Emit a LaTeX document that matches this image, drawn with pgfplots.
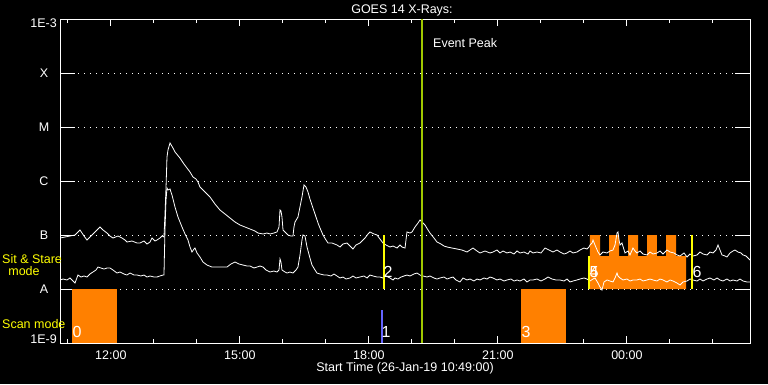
\documentclass[border=0pt]{standalone}
\usepackage{pgfplots}
\pgfplotsset{compat=1.18}
\usepackage{pgfplotstable}
\usepackage{fontspec}
\setmainfont{Liberation Sans}
\definecolor{scanorange}{RGB}{255,128,0}
\definecolor{peakgreen}{RGB}{160,200,0}
\definecolor{modeblue}{RGB}{100,100,255}
\definecolor{ssyellow}{RGB}{255,255,0}

% GOES 14 long channel (1-8 A), log10 flux, time in hours (UT, 26-Jan-19)
\pgfplotstableread{
t f
10.817 -7.056
10.933 -7.037
11.049 -7.019
11.166 -7.000
11.282 -6.907
11.375 -7.019
11.445 -7.093
11.538 -7.019
11.630 -6.944
11.700 -6.889
11.747 -6.852
11.817 -6.907
11.910 -6.963
11.979 -7.019
12.049 -7.056
12.165 -7.019
12.258 -7.056
12.328 -7.093
12.375 -7.130
12.491 -7.111
12.607 -7.148
12.677 -7.148
12.770 -7.111
12.840 -7.167
12.910 -7.130
12.956 -7.056
13.026 -7.111
13.072 -7.093
13.142 -7.056
13.189 -7.019
13.235 -7.037
13.258 -6.630
13.282 -6.130
13.305 -5.556
13.328 -5.426
13.375 -5.296
13.444 -5.389
13.491 -5.463
13.607 -5.574
13.700 -5.685
13.770 -5.759
13.840 -5.833
13.910 -5.926
13.980 -5.963
14.026 -6.019
14.072 -6.111
14.189 -6.204
14.305 -6.296
14.421 -6.426
14.537 -6.537
14.654 -6.611
14.770 -6.685
14.886 -6.759
15.003 -6.815
15.119 -6.852
15.235 -6.889
15.351 -6.926
15.421 -6.963
15.538 -6.981
15.630 -6.963
15.700 -6.981
15.793 -6.963
15.863 -6.944
15.910 -6.852
15.933 -6.537
15.956 -6.556
15.979 -6.667
16.003 -6.907
16.072 -6.963
16.119 -7.000
16.189 -7.019
16.235 -7.019
16.258 -6.852
16.282 -6.759
16.351 -6.667
16.398 -6.481
16.444 -6.296
16.491 -6.074
16.537 -6.111
16.584 -6.204
16.630 -6.333
16.700 -6.500
16.747 -6.611
16.817 -6.778
16.863 -6.870
16.933 -7.000
17.003 -7.093
17.049 -7.148
17.142 -7.148
17.258 -7.185
17.328 -7.222
17.398 -7.167
17.491 -7.148
17.561 -7.204
17.630 -7.259
17.700 -7.185
17.793 -7.148
17.863 -7.093
17.910 -7.056
17.980 -6.981
18.026 -6.944
18.119 -6.981
18.189 -7.000
18.258 -7.074
18.328 -7.148
18.398 -7.185
18.491 -7.222
18.561 -7.204
18.654 -7.241
18.724 -7.185
18.770 -7.222
18.840 -7.241
18.863 -7.093
18.886 -6.944
18.956 -6.963
19.003 -6.944
19.072 -6.852
19.142 -6.778
19.189 -6.722
19.258 -6.778
19.305 -6.815
19.375 -6.907
19.421 -6.963
19.514 -7.056
19.584 -7.130
19.677 -7.167
19.747 -7.204
19.817 -7.222
19.933 -7.241
20.049 -7.259
20.165 -7.278
20.282 -7.315
20.351 -7.278
20.421 -7.241
20.514 -7.296
20.584 -7.333
20.700 -7.296
20.817 -7.333
20.886 -7.315
20.979 -7.278
21.049 -7.333
21.119 -7.296
21.212 -7.333
21.282 -7.315
21.375 -7.352
21.445 -7.296
21.514 -7.333
21.607 -7.315
21.700 -7.352
21.747 -7.296
21.817 -7.333
21.910 -7.315
22.003 -7.333
22.096 -7.241
22.189 -7.278
22.282 -7.315
22.375 -7.278
22.445 -7.315
22.538 -7.352
22.608 -7.333
22.677 -7.296
22.747 -7.333
22.840 -7.315
22.910 -7.278
23.003 -7.241
23.072 -7.259
23.119 -7.222
23.142 -7.185
23.189 -7.148
23.212 -7.093
23.258 -7.185
23.328 -7.315
23.375 -7.370
23.445 -7.315
23.538 -7.333
23.607 -7.296
23.677 -7.278
23.724 -7.185
23.770 -6.963
23.793 -6.944
23.817 -7.093
23.840 -7.185
23.886 -7.148
23.956 -7.333
24.026 -7.296
24.072 -7.370
24.142 -7.241
24.189 -7.296
24.235 -7.333
24.305 -7.296
24.375 -7.352
24.468 -7.370
24.537 -7.315
24.608 -7.352
24.700 -7.333
24.770 -7.296
24.840 -7.352
24.933 -7.278
25.003 -7.315
25.096 -7.333
25.166 -7.370
25.235 -7.389
25.328 -7.333
25.398 -7.407
25.468 -7.352
25.538 -7.389
25.631 -7.370
25.700 -7.315
25.770 -7.352
25.863 -7.370
25.933 -7.315
26.003 -7.333
26.072 -7.278
26.119 -7.185
26.165 -7.278
26.212 -7.370
26.282 -7.389
26.328 -7.407
26.398 -7.333
26.468 -7.296
26.514 -7.278
26.584 -7.315
26.654 -7.333
26.700 -7.370
26.770 -7.389
26.817 -7.426
26.863 -7.463
}\longch

% GOES 14 short channel (0.5-4 A)
\pgfplotstableread{
t f
10.817 -7.833
10.887 -7.815
10.980 -7.833
11.049 -7.796
11.119 -7.852
11.166 -7.889
11.235 -7.741
11.305 -7.778
11.375 -7.759
11.445 -7.778
11.514 -7.722
11.584 -7.685
11.654 -7.648
11.700 -7.593
11.770 -7.611
11.840 -7.630
11.910 -7.611
11.979 -7.611
12.049 -7.648
12.142 -7.704
12.212 -7.685
12.305 -7.722
12.375 -7.741
12.444 -7.704
12.537 -7.741
12.607 -7.741
12.700 -7.759
12.770 -7.741
12.840 -7.778
12.910 -7.759
13.003 -7.778
13.072 -7.778
13.142 -7.759
13.212 -7.741
13.235 -7.741
13.258 -6.907
13.282 -6.352
13.305 -6.130
13.328 -6.167
13.375 -6.148
13.421 -6.259
13.491 -6.481
13.561 -6.667
13.654 -6.852
13.724 -6.981
13.793 -7.093
13.840 -7.222
13.886 -7.315
13.933 -7.259
13.956 -7.241
14.003 -7.333
14.072 -7.407
14.142 -7.500
14.235 -7.556
14.351 -7.593
14.468 -7.593
14.584 -7.593
14.700 -7.593
14.793 -7.537
14.886 -7.500
14.979 -7.537
15.072 -7.556
15.166 -7.574
15.235 -7.574
15.328 -7.611
15.398 -7.593
15.468 -7.574
15.538 -7.593
15.607 -7.648
15.700 -7.685
15.793 -7.667
15.863 -7.685
15.910 -7.648
15.933 -7.444
15.956 -7.500
15.979 -7.648
16.049 -7.685
16.096 -7.704
16.165 -7.685
16.235 -7.704
16.305 -7.648
16.351 -7.593
16.398 -7.370
16.444 -7.093
16.468 -7.000
16.514 -7.019
16.561 -7.222
16.630 -7.426
16.677 -7.556
16.747 -7.648
16.793 -7.704
16.863 -7.722
16.956 -7.741
17.026 -7.741
17.119 -7.759
17.189 -7.722
17.258 -7.759
17.328 -7.796
17.398 -7.778
17.468 -7.815
17.561 -7.796
17.630 -7.759
17.700 -7.796
17.793 -7.778
17.886 -7.759
17.956 -7.796
18.026 -7.741
18.096 -7.759
18.189 -7.778
18.258 -7.778
18.328 -7.796
18.398 -7.759
18.491 -7.796
18.561 -7.833
18.607 -7.796
18.677 -7.815
18.747 -7.778
18.817 -7.759
18.886 -7.741
18.956 -7.759
19.049 -7.722
19.119 -7.704
19.189 -7.741
19.258 -7.759
19.351 -7.778
19.421 -7.759
19.514 -7.796
19.584 -7.815
19.654 -7.796
19.747 -7.778
19.817 -7.815
19.886 -7.796
19.956 -7.778
20.026 -7.833
20.119 -7.870
20.189 -7.796
20.282 -7.833
20.351 -7.815
20.444 -7.852
20.514 -7.815
20.584 -7.833
20.677 -7.796
20.747 -7.815
20.817 -7.778
20.886 -7.796
20.979 -7.833
21.049 -7.815
21.142 -7.852
21.212 -7.833
21.305 -7.815
21.375 -7.852
21.445 -7.833
21.514 -7.852
21.607 -7.815
21.677 -7.870
21.747 -7.833
21.817 -7.833
21.910 -7.815
22.003 -7.852
22.096 -7.815
22.166 -7.778
22.258 -7.815
22.352 -7.833
22.445 -7.833
22.538 -7.852
22.608 -7.815
22.677 -7.870
22.747 -7.852
22.840 -7.833
22.910 -7.815
23.003 -7.796
23.072 -7.815
23.142 -7.852
23.212 -7.815
23.258 -7.796
23.328 -7.889
23.375 -7.963
23.421 -8.019
23.468 -7.870
23.538 -7.833
23.607 -7.852
23.677 -7.870
23.724 -7.796
23.770 -7.704
23.793 -7.759
23.840 -7.796
23.910 -7.833
24.003 -7.815
24.072 -7.852
24.142 -7.833
24.235 -7.833
24.305 -7.815
24.375 -7.852
24.468 -7.833
24.537 -7.815
24.608 -7.833
24.700 -7.852
24.770 -7.815
24.840 -7.833
24.933 -7.870
25.003 -7.833
25.072 -7.852
25.166 -7.889
25.235 -7.926
25.305 -7.870
25.398 -7.852
25.468 -7.815
25.538 -7.833
25.631 -7.852
25.700 -7.815
25.770 -7.852
25.863 -7.815
25.933 -7.796
26.026 -7.833
26.096 -7.796
26.165 -7.833
26.235 -7.852
26.328 -7.815
26.398 -7.852
26.468 -7.833
26.561 -7.852
26.630 -7.815
26.700 -7.852
26.793 -7.870
26.863 -7.870
}\shortch

\begin{document}
\begin{tikzpicture}[x=1pt,y=1pt]
\fill[black] (0,0) rectangle (768,384);
\path[use as bounding box] (0,0) rectangle (768,384);
\begin{axis}[
  at={(60pt,41pt)}, anchor=south west,
  scale only axis, width=690pt, height=324pt,
  xmin=10.817, xmax=26.863, ymin=-9, ymax=-3,
  axis line style={white, line width=0.8pt},
  tick style={white, line width=0.8pt},
  tick align=inside,
  major tick length=7pt, minor tick length=4pt,
  xtick={12,15,18,21,24},
  xticklabels={12:00,15:00,18:00,21:00,00:00},
  minor xtick={11,13,14,16,17,19,20,22,23,25,26},
  ytick=\empty,
  extra y ticks={-8,-7,-6,-5,-4},
  extra y tick labels={A,B,C,M,X},
  extra y tick style={major tick length=15pt, grid=major,
    yticklabel style={anchor=center, xshift=-16pt}},
  major grid style={white, line width=1pt, dash pattern=on 1pt off 5pt},
  xticklabel style={anchor=center, yshift=-12pt},
  tick label style={white, font=\fontsize{12.5}{14}\selectfont},
  /pgf/number format/assume math mode=true,
]
% Scan mode blocks
\addplot[draw=none, fill=scanorange] coordinates {(11.096,-9) (12.142,-9) (12.142,-8) (11.096,-8)} -- cycle;
\addplot[draw=none, fill=scanorange] coordinates {(21.538,-9) (22.584,-9) (22.584,-8) (21.538,-8)} -- cycle;
% Sit & Stare block
\addplot[draw=none, fill=scanorange] coordinates {
 (23.119,-8) (25.375,-8) (25.375,-7.389) (25.143,-7.389) (25.143,-7) (24.910,-7)
 (24.910,-7.389) (24.700,-7.389) (24.700,-7) (24.468,-7) (24.468,-7.389) (24.259,-7.389)
 (24.259,-7) (24.026,-7) (24.026,-7.389) (23.817,-7.389) (23.817,-7) (23.584,-7)
 (23.584,-7.389) (23.375,-7.389) (23.375,-7) (23.142,-7) (23.142,-7.389) (23.119,-7.389)} -- cycle;
% flux curves
\addplot[white, line width=0.8pt] table[x=t, y=f] {\longch};
\addplot[white, line width=0.8pt] table[x=t, y=f] {\shortch};
% event markers
\addplot[ssyellow, line width=2pt] coordinates {(18.352,-7) (18.352,-8)};
\addplot[ssyellow, line width=1.5pt] coordinates {(23.119,-7.389) (23.119,-8)};
\addplot[ssyellow, line width=2pt] coordinates {(25.515,-7) (25.515,-8)};
\addplot[modeblue, line width=2.5pt] coordinates {(18.305,-8.389) (18.305,-9)};
\addplot[peakgreen, line width=2pt] coordinates {(19.235,-9) (19.235,-3)};
% marker numbers
\node[white, font=\fontsize{16}{16}\selectfont, inner sep=0pt] at (axis cs:11.212,-8.796) {0};
\node[white, font=\fontsize{16}{16}\selectfont, inner sep=0pt] at (axis cs:18.398,-8.796) {1};
\node[white, font=\fontsize{16}{16}\selectfont, inner sep=0pt] at (axis cs:18.445,-7.685) {2};
\node[white, font=\fontsize{16}{16}\selectfont, inner sep=0pt] at (axis cs:21.654,-8.796) {3};
\node[white, font=\fontsize{16}{16}\selectfont, inner sep=0pt] at (axis cs:23.236,-7.685) {4};
\node[white, font=\fontsize{16}{16}\selectfont, inner sep=0pt] at (axis cs:23.236,-7.685) {5};
\node[white, font=\fontsize{16}{16}\selectfont, inner sep=0pt] at (axis cs:25.631,-7.685) {6};
\end{axis}
\begin{scope}[every node/.style={inner sep=0pt, font=\fontsize{12.5}{14}\selectfont}]
\node[white] at (402,374) {GOES 14 X-Rays:};
\node[white, anchor=west] at (433,341) {Event Peak};
\node[white] at (405,16) {Start Time (26-Jan-19 10:49:00)};
\node[white, anchor=east] at (57,361) {1E-3};
\node[white, anchor=east] at (57,45) {1E-9};
\node[ssyellow, anchor=west] at (2,125) {Sit \& Stare};
\node[ssyellow] at (24,113) {mode};
\node[ssyellow, anchor=west] at (2,60) {Scan mode};
\end{scope}
\end{tikzpicture}
\end{document}
